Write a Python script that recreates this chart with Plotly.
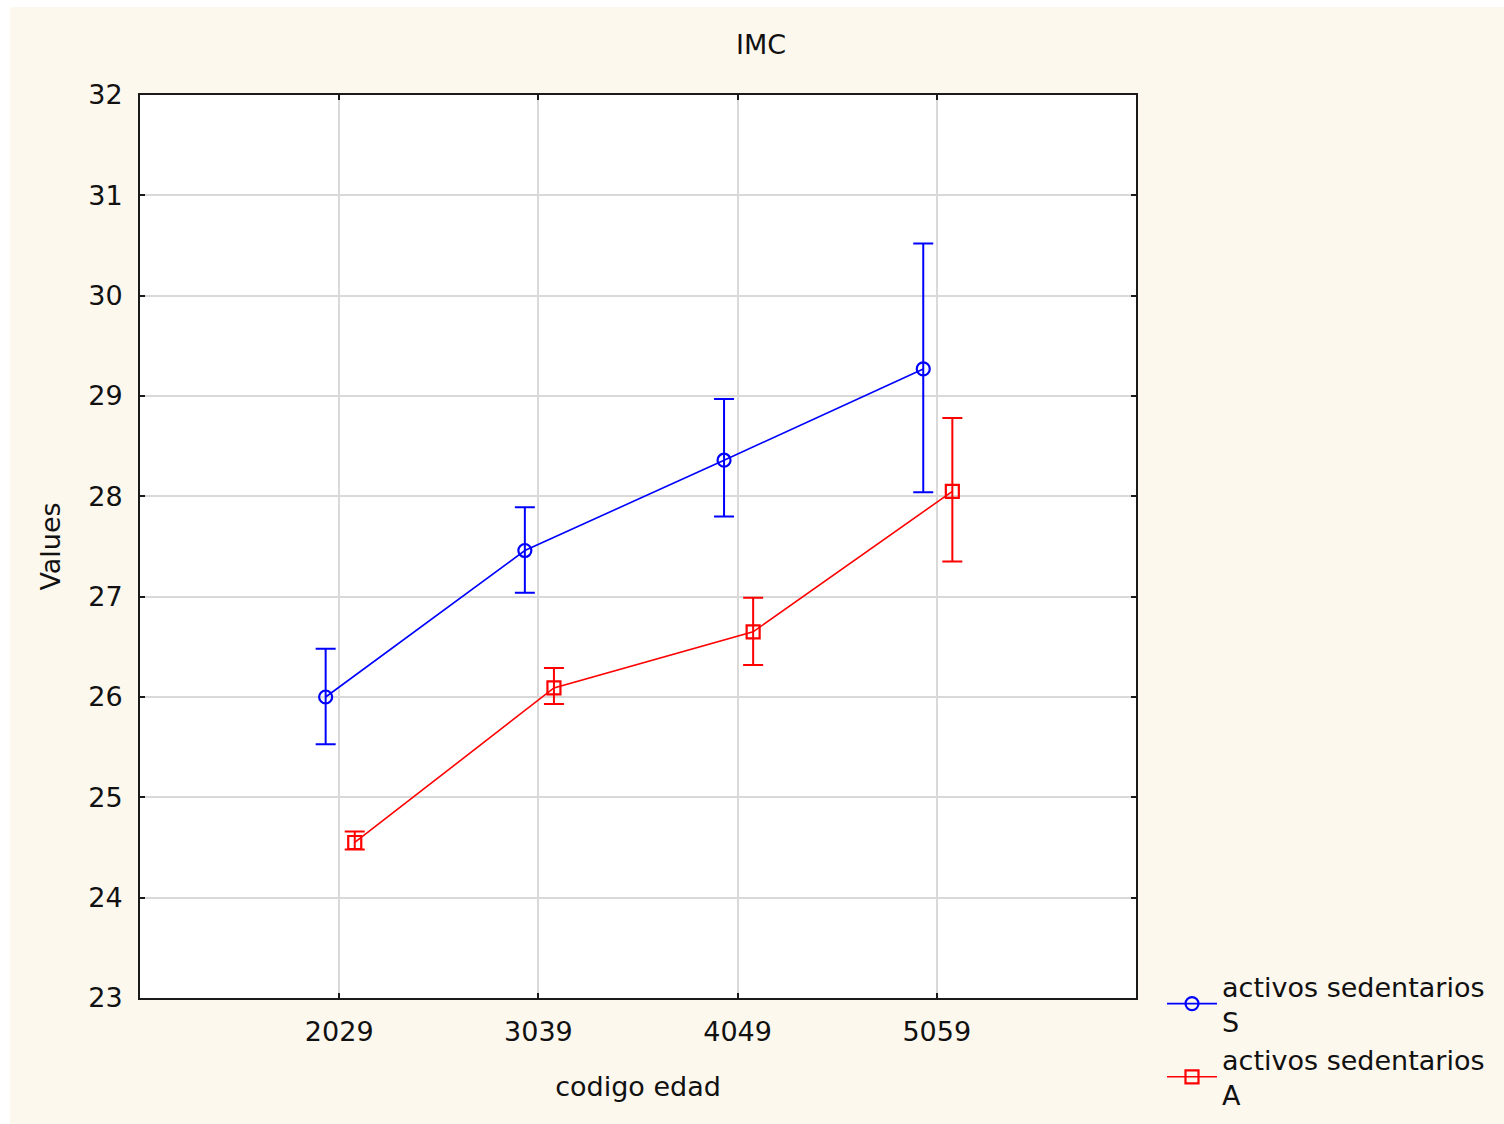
import plotly.graph_objects as go

categories = ["2029", "3039", "4049", "5059"]
series_names = ["activos sedentarios<br>S", "activos sedentarios<br>A"]
mean_S = [26.00, 27.46, 28.36, 29.27]
upper_S = [26.48, 27.89, 28.97, 30.52]
lower_S = [25.53, 27.04, 27.80, 28.04]
mean_A = [24.55, 26.09, 26.65, 28.05]
upper_A = [24.66, 26.29, 26.99, 28.78]
lower_A = [24.48, 25.93, 26.32, 27.35]

FONT = "DejaVu Sans, sans-serif"
FS = 27
CREAM = "#fdf8ee"
W, H = 1504, 1124
L, R, T, B = 140, 368, 95, 126

pos = list(range(1, len(categories) + 1))

def trace(name, mean, up, lo, color, symbol, offset):
    return go.Scatter(
        x=[p + offset for p in pos], y=mean, name=name,
        mode="lines+markers",
        line=dict(color=color, width=1.6),
        marker=dict(symbol=symbol, size=13, color=color,
                    line=dict(color=color, width=2.2)),
        error_y=dict(type="data", symmetric=False,
                     array=[u - m for u, m in zip(up, mean)],
                     arrayminus=[m - l for m, l in zip(mean, lo)],
                     color=color, thickness=2, width=10),
    )

fig = go.Figure()
fig.add_trace(trace(series_names[0], mean_S, upper_S, lower_S, "#0000ff", "circle-open", -0.068))
fig.add_trace(trace(series_names[1], mean_A, upper_A, lower_A, "#ff0000", "square-open", 0.078))

pw, ph = W - L - R, H - T - B
fig.add_shape(type="rect", xref="paper", yref="paper",
              x0=(10 - L) / pw, x1=(W - L) / pw + 0.01,
              y0=-(B + 5) / ph, y1=1 + (T - 7) / ph,
              fillcolor=CREAM, line=dict(width=0), layer="below")
fig.add_shape(type="rect", xref="paper", yref="paper",
              x0=0, x1=1, y0=0, y1=1,
              fillcolor="white", line=dict(width=0), layer="below")

axis_common = dict(
    showline=True, linecolor="#1a1a1a", linewidth=2, mirror="ticks",
    ticks="inside", ticklen=5, tickwidth=1.5, tickcolor="#1a1a1a",
    showgrid=True, gridcolor="#d9d9d9", gridwidth=2, zeroline=False,
    tickfont=dict(family=FONT, size=FS, color="#111111"),
)

fig.update_layout(
    width=W, height=H,
    margin=dict(l=L, r=R, t=T, b=B, autoexpand=False),
    paper_bgcolor="white", plot_bgcolor="white",
    font=dict(family=FONT, size=FS, color="#111111"),
    title=dict(text="IMC", x=761 / W, xanchor="center", y=1 - 45 / H, yanchor="middle",
               font=dict(family=FONT, size=FS, color="#111111")),
    xaxis=dict(range=[0, 5], tickmode="array", tickvals=pos, ticktext=categories,
               title=dict(text="codigo edad", standoff=31,
                          font=dict(family=FONT, size=FS)),
               ticklabelstandoff=9, **axis_common),
    yaxis=dict(range=[23, 32], dtick=1,
               title=dict(text="Values", standoff=20,
                          font=dict(family=FONT, size=FS)),
               ticklabelstandoff=10, **axis_common),
    legend=dict(x=(1162 - L) / pw, xanchor="left", y=(H - B - 962) / ph, yanchor="top",
                bgcolor="rgba(0,0,0,0)", font=dict(family=FONT, size=FS, color="#111111"),
                tracegroupgap=0, itemwidth=50),
    showlegend=True,
)

fig.write_html("out.html")
